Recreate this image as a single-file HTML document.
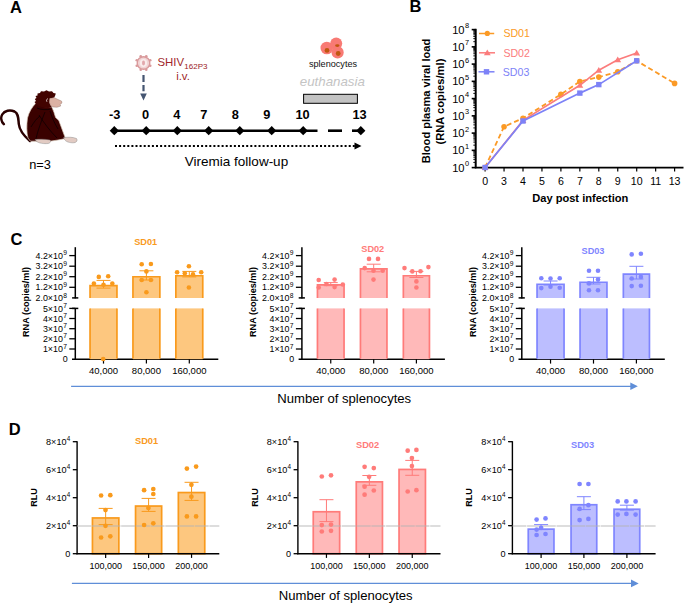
<!DOCTYPE html>
<html><head><meta charset="utf-8"><style>
html,body{margin:0;padding:0;background:#fff;}
svg{display:block;font-family:"Liberation Sans",sans-serif;}
</style></head><body>
<svg width="685" height="603" viewBox="0 0 685 603">
<rect width="685" height="603" fill="#fff"/>
<text x="10.00" y="12.60" font-size="16.5" text-anchor="start" font-weight="bold" fill="#000" >A</text>
<g id="monkey">
<path d="M30,141 C24,136 19.5,131 18.8,124 C18.2,118 18.5,113.5 14.5,111.5 C10,109.5 4.5,110.5 2.2,114.5 C0.5,117.5 1.2,121.5 3.8,124.2" fill="none" stroke="#2a0000" stroke-width="2.5" stroke-linecap="round"/>
<path d="M36,103 C32,107 29,112 27.5,118 C26.5,125 26.6,133 28,138 L30.5,141.2 L50,141.2 L58,140 L65.5,138.6 L59.2,121.5 C58.6,119.6 56.8,119 55.6,117.5 C54.5,114 53.5,110.5 52,107.5 L44,106.5 Z" fill="#3a0100" stroke="#d8c8b8" stroke-width="0.7"/>
<path d="M36,104 L34.5,102 L36,101 L34.8,99 L36.5,98 L35.5,96 L37.5,95.5 L37.5,93.5 L40,93 L41,91.2 L44,91.5 L46.5,90.3 L49,91.5 L52,91.2 L53.5,93 L55.8,93.5 L55,96 L54,97.8 L50,98.5 L49.5,103 L52,107.5 C48,108.5 40,108 36,104 Z" fill="#420300"/>
<path d="M49.5,98.5 L54,97.5 L58,99.5 L61.5,101 L62,103 L60,104.5 L60.8,106 L57,107.3 L53,107 L50.5,105.5 L49.3,102 Z" fill="#dcb2a4" stroke="#6a4a40" stroke-width="0.3"/>
<path d="M47.8,98.6 C46.4,99.2 46.2,101 47,101.8" stroke="#e0d0d0" stroke-width="0.9" fill="none"/>
<path d="M35,139.6 C39,139 45,139 50,140 C51.5,141.5 50,143.6 47,143.6 C42,143.8 37,143 35,139.6 Z" fill="#e2cbc3" stroke="#777" stroke-width="0.4"/>
<path d="M63.5,137.6 C68,137 73,137 76.5,138.5 C78,140.5 76.5,143 72.5,142.8 C68,142.6 65,141.5 63.5,137.6 Z" fill="#e2cbc3" stroke="#777" stroke-width="0.4"/>
<path d="M39,115 C44,123 50,131 57,138 M45,112 C41,122 38,130 36,138.5 M50,111 C52,118 55,124 58,129 M37,108 C41,110 47,110 51,109 M31,127 C34,122 37,118 40,116" stroke="#000" stroke-width="0.6" fill="none"/>
</g>
<text x="40.00" y="168.60" font-size="12.8" text-anchor="middle" fill="#000" >n=3</text>
<g transform="translate(143.5,63)">
<circle cx="6.74" cy="2.79" r="1.3" fill="#d99a9c"/>
<circle cx="2.79" cy="6.74" r="1.3" fill="#d99a9c"/>
<circle cx="-2.79" cy="6.74" r="1.3" fill="#d99a9c"/>
<circle cx="-6.74" cy="2.79" r="1.3" fill="#d99a9c"/>
<circle cx="-6.74" cy="-2.79" r="1.3" fill="#d99a9c"/>
<circle cx="-2.79" cy="-6.74" r="1.3" fill="#d99a9c"/>
<circle cx="2.79" cy="-6.74" r="1.3" fill="#d99a9c"/>
<circle cx="6.74" cy="-2.79" r="1.3" fill="#d99a9c"/>
<circle r="6.3" fill="#f1d4d5" stroke="#d99a9c" stroke-width="1.4"/><ellipse rx="3.6" ry="4" fill="#f9ecec"/><ellipse rx="1.5" ry="2.4" fill="#e2a8ac"/>
</g>
<text x="157.40" y="65.80" font-size="11.4" text-anchor="start" fill="#a0272a" >SHIV</text>
<text x="184.30" y="69.40" font-size="8.0" text-anchor="start" fill="#9c2226" >162P3</text>
<text x="183.00" y="80.20" font-size="11.4" text-anchor="middle" fill="#a0272a" >i.v.</text>
<path d="M143.5,75 L143.5,82 M143.5,85.1 L143.5,91.2" stroke="#455571" stroke-width="2.2"/>
<path d="M140.2,93.6 L146.8,93.6 L143.5,100.6 Z" fill="#455571"/>
<circle cx="326.8" cy="48" r="6.3" fill="#f87a74"/><circle cx="336.2" cy="43.4" r="6" fill="#f87a74"/><circle cx="337.6" cy="52.4" r="6.1" fill="#f87a74"/>
<circle cx="327" cy="50.4" r="2.4" fill="#c0560f"/><ellipse cx="337.3" cy="45.6" rx="2.2" ry="1.3" fill="#c0560f"/><circle cx="338.2" cy="53.5" r="2.4" fill="#c0560f"/>
<text x="333.00" y="66.90" font-size="9.15" text-anchor="middle" fill="#111" >splenocytes</text>
<text x="332.30" y="86.40" font-size="13.3" text-anchor="middle" font-style="italic" fill="#c4c4c4" >euthanasia</text>
<rect x="303.6" y="94.3" width="53.8" height="9" fill="#c3c3c3" stroke="#000" stroke-width="1"/>
<text x="114.70" y="119.30" font-size="12.8" text-anchor="middle" font-weight="bold" fill="#000" >-3</text>
<text x="145.60" y="119.30" font-size="12.8" text-anchor="middle" font-weight="bold" fill="#000" >0</text>
<text x="176.90" y="119.30" font-size="12.8" text-anchor="middle" font-weight="bold" fill="#000" >4</text>
<text x="203.80" y="119.30" font-size="12.8" text-anchor="middle" font-weight="bold" fill="#000" >7</text>
<text x="235.30" y="119.30" font-size="12.8" text-anchor="middle" font-weight="bold" fill="#000" >8</text>
<text x="266.70" y="119.30" font-size="12.8" text-anchor="middle" font-weight="bold" fill="#000" >9</text>
<text x="302.60" y="119.30" font-size="12.8" text-anchor="middle" font-weight="bold" fill="#000" >10</text>
<text x="359.60" y="119.30" font-size="12.8" text-anchor="middle" font-weight="bold" fill="#000" >13</text>
<line x1="114.30" y1="130.70" x2="317.50" y2="130.70" stroke="#000" stroke-width="2.6" />
<line x1="328.00" y1="130.70" x2="342.00" y2="130.70" stroke="#000" stroke-width="2.6" />
<line x1="352.00" y1="130.70" x2="361.00" y2="130.70" stroke="#000" stroke-width="2.6" />
<path d="M109.70,130.7 L114.30,126.1 L118.90,130.7 L114.30,135.3 Z" fill="#000"/>
<path d="M141.60,130.7 L146.20,126.1 L150.80,130.7 L146.20,135.3 Z" fill="#000"/>
<path d="M172.70,130.7 L177.30,126.1 L181.90,130.7 L177.30,135.3 Z" fill="#000"/>
<path d="M204.10,130.7 L208.70,126.1 L213.30,130.7 L208.70,135.3 Z" fill="#000"/>
<path d="M235.20,130.7 L239.80,126.1 L244.40,130.7 L239.80,135.3 Z" fill="#000"/>
<path d="M267.10,130.7 L271.70,126.1 L276.30,130.7 L271.70,135.3 Z" fill="#000"/>
<path d="M298.60,130.7 L303.20,126.1 L307.80,130.7 L303.20,135.3 Z" fill="#000"/>
<path d="M356.20,130.7 L360.80,126.1 L365.40,130.7 L360.80,135.3 Z" fill="#000"/>
<line x1="115" y1="146" x2="355" y2="146" stroke="#000" stroke-width="2" stroke-dasharray="2,2.1"/>
<path d="M354.5,142.6 L361.5,146 L354.5,149.4 Z" fill="#000"/>
<text x="236.50" y="165.60" font-size="13.5" text-anchor="middle" fill="#000" >Viremia follow-up</text>
<text x="409.60" y="12.30" font-size="16.5" text-anchor="start" font-weight="bold" fill="#000" >B</text>
<line x1="473.30" y1="162.41" x2="475.70" y2="162.41" stroke="#000" stroke-width="0.9" />
<line x1="473.30" y1="159.37" x2="475.70" y2="159.37" stroke="#000" stroke-width="0.9" />
<line x1="473.30" y1="157.21" x2="475.70" y2="157.21" stroke="#000" stroke-width="0.9" />
<line x1="473.30" y1="155.54" x2="475.70" y2="155.54" stroke="#000" stroke-width="0.9" />
<line x1="473.30" y1="154.18" x2="475.70" y2="154.18" stroke="#000" stroke-width="0.9" />
<line x1="473.30" y1="153.02" x2="475.70" y2="153.02" stroke="#000" stroke-width="0.9" />
<line x1="473.30" y1="152.02" x2="475.70" y2="152.02" stroke="#000" stroke-width="0.9" />
<line x1="473.30" y1="151.14" x2="475.70" y2="151.14" stroke="#000" stroke-width="0.9" />
<line x1="473.30" y1="145.16" x2="475.70" y2="145.16" stroke="#000" stroke-width="0.9" />
<line x1="473.30" y1="142.12" x2="475.70" y2="142.12" stroke="#000" stroke-width="0.9" />
<line x1="473.30" y1="139.96" x2="475.70" y2="139.96" stroke="#000" stroke-width="0.9" />
<line x1="473.30" y1="138.29" x2="475.70" y2="138.29" stroke="#000" stroke-width="0.9" />
<line x1="473.30" y1="136.93" x2="475.70" y2="136.93" stroke="#000" stroke-width="0.9" />
<line x1="473.30" y1="135.77" x2="475.70" y2="135.77" stroke="#000" stroke-width="0.9" />
<line x1="473.30" y1="134.77" x2="475.70" y2="134.77" stroke="#000" stroke-width="0.9" />
<line x1="473.30" y1="133.89" x2="475.70" y2="133.89" stroke="#000" stroke-width="0.9" />
<line x1="473.30" y1="127.91" x2="475.70" y2="127.91" stroke="#000" stroke-width="0.9" />
<line x1="473.30" y1="124.87" x2="475.70" y2="124.87" stroke="#000" stroke-width="0.9" />
<line x1="473.30" y1="122.71" x2="475.70" y2="122.71" stroke="#000" stroke-width="0.9" />
<line x1="473.30" y1="121.04" x2="475.70" y2="121.04" stroke="#000" stroke-width="0.9" />
<line x1="473.30" y1="119.68" x2="475.70" y2="119.68" stroke="#000" stroke-width="0.9" />
<line x1="473.30" y1="118.52" x2="475.70" y2="118.52" stroke="#000" stroke-width="0.9" />
<line x1="473.30" y1="117.52" x2="475.70" y2="117.52" stroke="#000" stroke-width="0.9" />
<line x1="473.30" y1="116.64" x2="475.70" y2="116.64" stroke="#000" stroke-width="0.9" />
<line x1="473.30" y1="110.66" x2="475.70" y2="110.66" stroke="#000" stroke-width="0.9" />
<line x1="473.30" y1="107.62" x2="475.70" y2="107.62" stroke="#000" stroke-width="0.9" />
<line x1="473.30" y1="105.46" x2="475.70" y2="105.46" stroke="#000" stroke-width="0.9" />
<line x1="473.30" y1="103.79" x2="475.70" y2="103.79" stroke="#000" stroke-width="0.9" />
<line x1="473.30" y1="102.43" x2="475.70" y2="102.43" stroke="#000" stroke-width="0.9" />
<line x1="473.30" y1="101.27" x2="475.70" y2="101.27" stroke="#000" stroke-width="0.9" />
<line x1="473.30" y1="100.27" x2="475.70" y2="100.27" stroke="#000" stroke-width="0.9" />
<line x1="473.30" y1="99.39" x2="475.70" y2="99.39" stroke="#000" stroke-width="0.9" />
<line x1="473.30" y1="93.41" x2="475.70" y2="93.41" stroke="#000" stroke-width="0.9" />
<line x1="473.30" y1="90.37" x2="475.70" y2="90.37" stroke="#000" stroke-width="0.9" />
<line x1="473.30" y1="88.21" x2="475.70" y2="88.21" stroke="#000" stroke-width="0.9" />
<line x1="473.30" y1="86.54" x2="475.70" y2="86.54" stroke="#000" stroke-width="0.9" />
<line x1="473.30" y1="85.18" x2="475.70" y2="85.18" stroke="#000" stroke-width="0.9" />
<line x1="473.30" y1="84.02" x2="475.70" y2="84.02" stroke="#000" stroke-width="0.9" />
<line x1="473.30" y1="83.02" x2="475.70" y2="83.02" stroke="#000" stroke-width="0.9" />
<line x1="473.30" y1="82.14" x2="475.70" y2="82.14" stroke="#000" stroke-width="0.9" />
<line x1="473.30" y1="76.16" x2="475.70" y2="76.16" stroke="#000" stroke-width="0.9" />
<line x1="473.30" y1="73.12" x2="475.70" y2="73.12" stroke="#000" stroke-width="0.9" />
<line x1="473.30" y1="70.96" x2="475.70" y2="70.96" stroke="#000" stroke-width="0.9" />
<line x1="473.30" y1="69.29" x2="475.70" y2="69.29" stroke="#000" stroke-width="0.9" />
<line x1="473.30" y1="67.93" x2="475.70" y2="67.93" stroke="#000" stroke-width="0.9" />
<line x1="473.30" y1="66.77" x2="475.70" y2="66.77" stroke="#000" stroke-width="0.9" />
<line x1="473.30" y1="65.77" x2="475.70" y2="65.77" stroke="#000" stroke-width="0.9" />
<line x1="473.30" y1="64.89" x2="475.70" y2="64.89" stroke="#000" stroke-width="0.9" />
<line x1="473.30" y1="58.91" x2="475.70" y2="58.91" stroke="#000" stroke-width="0.9" />
<line x1="473.30" y1="55.87" x2="475.70" y2="55.87" stroke="#000" stroke-width="0.9" />
<line x1="473.30" y1="53.71" x2="475.70" y2="53.71" stroke="#000" stroke-width="0.9" />
<line x1="473.30" y1="52.04" x2="475.70" y2="52.04" stroke="#000" stroke-width="0.9" />
<line x1="473.30" y1="50.68" x2="475.70" y2="50.68" stroke="#000" stroke-width="0.9" />
<line x1="473.30" y1="49.52" x2="475.70" y2="49.52" stroke="#000" stroke-width="0.9" />
<line x1="473.30" y1="48.52" x2="475.70" y2="48.52" stroke="#000" stroke-width="0.9" />
<line x1="473.30" y1="47.64" x2="475.70" y2="47.64" stroke="#000" stroke-width="0.9" />
<line x1="473.30" y1="41.66" x2="475.70" y2="41.66" stroke="#000" stroke-width="0.9" />
<line x1="473.30" y1="38.62" x2="475.70" y2="38.62" stroke="#000" stroke-width="0.9" />
<line x1="473.30" y1="36.46" x2="475.70" y2="36.46" stroke="#000" stroke-width="0.9" />
<line x1="473.30" y1="34.79" x2="475.70" y2="34.79" stroke="#000" stroke-width="0.9" />
<line x1="473.30" y1="33.43" x2="475.70" y2="33.43" stroke="#000" stroke-width="0.9" />
<line x1="473.30" y1="32.27" x2="475.70" y2="32.27" stroke="#000" stroke-width="0.9" />
<line x1="473.30" y1="31.27" x2="475.70" y2="31.27" stroke="#000" stroke-width="0.9" />
<line x1="473.30" y1="30.39" x2="475.70" y2="30.39" stroke="#000" stroke-width="0.9" />
<line x1="471.70" y1="167.60" x2="475.70" y2="167.60" stroke="#000" stroke-width="1.6" />
<text x="464.60" y="171.60" font-size="11.2" text-anchor="end" fill="#000" >10</text>
<text x="469.10" y="166.20" font-size="7.4" text-anchor="end" fill="#000" >0</text>
<line x1="471.70" y1="150.35" x2="475.70" y2="150.35" stroke="#000" stroke-width="1.6" />
<text x="464.60" y="154.35" font-size="11.2" text-anchor="end" fill="#000" >10</text>
<text x="469.10" y="148.95" font-size="7.4" text-anchor="end" fill="#000" >1</text>
<line x1="471.70" y1="133.10" x2="475.70" y2="133.10" stroke="#000" stroke-width="1.6" />
<text x="464.60" y="137.10" font-size="11.2" text-anchor="end" fill="#000" >10</text>
<text x="469.10" y="131.70" font-size="7.4" text-anchor="end" fill="#000" >2</text>
<line x1="471.70" y1="115.85" x2="475.70" y2="115.85" stroke="#000" stroke-width="1.6" />
<text x="464.60" y="119.85" font-size="11.2" text-anchor="end" fill="#000" >10</text>
<text x="469.10" y="114.45" font-size="7.4" text-anchor="end" fill="#000" >3</text>
<line x1="471.70" y1="98.60" x2="475.70" y2="98.60" stroke="#000" stroke-width="1.6" />
<text x="464.60" y="102.60" font-size="11.2" text-anchor="end" fill="#000" >10</text>
<text x="469.10" y="97.20" font-size="7.4" text-anchor="end" fill="#000" >4</text>
<line x1="471.70" y1="81.35" x2="475.70" y2="81.35" stroke="#000" stroke-width="1.6" />
<text x="464.60" y="85.35" font-size="11.2" text-anchor="end" fill="#000" >10</text>
<text x="469.10" y="79.95" font-size="7.4" text-anchor="end" fill="#000" >5</text>
<line x1="471.70" y1="64.10" x2="475.70" y2="64.10" stroke="#000" stroke-width="1.6" />
<text x="464.60" y="68.10" font-size="11.2" text-anchor="end" fill="#000" >10</text>
<text x="469.10" y="62.70" font-size="7.4" text-anchor="end" fill="#000" >6</text>
<line x1="471.70" y1="46.85" x2="475.70" y2="46.85" stroke="#000" stroke-width="1.6" />
<text x="464.60" y="50.85" font-size="11.2" text-anchor="end" fill="#000" >10</text>
<text x="469.10" y="45.45" font-size="7.4" text-anchor="end" fill="#000" >7</text>
<line x1="471.70" y1="29.60" x2="475.70" y2="29.60" stroke="#000" stroke-width="1.6" />
<text x="464.60" y="33.60" font-size="11.2" text-anchor="end" fill="#000" >10</text>
<text x="469.10" y="28.20" font-size="7.4" text-anchor="end" fill="#000" >8</text>
<line x1="475.70" y1="28.80" x2="475.70" y2="168.20" stroke="#000" stroke-width="2.0" />
<line x1="474.90" y1="167.60" x2="683.50" y2="167.60" stroke="#000" stroke-width="1.6" />
<line x1="485.10" y1="167.60" x2="485.10" y2="171.60" stroke="#000" stroke-width="1.2" />
<text x="485.10" y="184.60" font-size="10.6" text-anchor="middle" fill="#000" >0</text>
<line x1="504.05" y1="167.60" x2="504.05" y2="171.60" stroke="#000" stroke-width="1.2" />
<text x="504.05" y="184.60" font-size="10.6" text-anchor="middle" fill="#000" >3</text>
<line x1="523.00" y1="167.60" x2="523.00" y2="171.60" stroke="#000" stroke-width="1.2" />
<text x="523.00" y="184.60" font-size="10.6" text-anchor="middle" fill="#000" >4</text>
<line x1="541.95" y1="167.60" x2="541.95" y2="171.60" stroke="#000" stroke-width="1.2" />
<text x="541.95" y="184.60" font-size="10.6" text-anchor="middle" fill="#000" >5</text>
<line x1="560.90" y1="167.60" x2="560.90" y2="171.60" stroke="#000" stroke-width="1.2" />
<text x="560.90" y="184.60" font-size="10.6" text-anchor="middle" fill="#000" >6</text>
<line x1="579.85" y1="167.60" x2="579.85" y2="171.60" stroke="#000" stroke-width="1.2" />
<text x="579.85" y="184.60" font-size="10.6" text-anchor="middle" fill="#000" >7</text>
<line x1="598.80" y1="167.60" x2="598.80" y2="171.60" stroke="#000" stroke-width="1.2" />
<text x="598.80" y="184.60" font-size="10.6" text-anchor="middle" fill="#000" >8</text>
<line x1="617.75" y1="167.60" x2="617.75" y2="171.60" stroke="#000" stroke-width="1.2" />
<text x="617.75" y="184.60" font-size="10.6" text-anchor="middle" fill="#000" >9</text>
<line x1="636.70" y1="167.60" x2="636.70" y2="171.60" stroke="#000" stroke-width="1.2" />
<text x="636.70" y="184.60" font-size="10.6" text-anchor="middle" fill="#000" >10</text>
<line x1="655.65" y1="167.60" x2="655.65" y2="171.60" stroke="#000" stroke-width="1.2" />
<text x="655.65" y="184.60" font-size="10.6" text-anchor="middle" fill="#000" >11</text>
<line x1="674.60" y1="167.60" x2="674.60" y2="171.60" stroke="#000" stroke-width="1.2" />
<text x="674.60" y="184.60" font-size="10.6" text-anchor="middle" fill="#000" >13</text>
<text x="580.30" y="202.30" font-size="11.1" text-anchor="middle" font-weight="bold" fill="#000" >Day post infection</text>
<text transform="translate(429.6,101) rotate(-90)" font-size="11.1" font-weight="bold" text-anchor="middle">Blood plasma viral load</text>
<text transform="translate(444.2,101.6) rotate(-90)" font-size="11.2" font-weight="bold" text-anchor="middle">(RNA copies/ml)</text>
<polyline points="485.10,167.50 504.05,126.70 523.00,118.20 560.90,94.40 579.85,81.50 598.80,77.10 617.75,71.80 636.70,60.80 674.60,83.40" fill="none" stroke="#fb9a26" stroke-width="1.8" stroke-dasharray="5,3"/>
<circle cx="485.10" cy="167.50" r="2.8" fill="#fb9a26"/>
<circle cx="504.05" cy="126.70" r="2.8" fill="#fb9a26"/>
<circle cx="523.00" cy="118.20" r="2.8" fill="#fb9a26"/>
<circle cx="560.90" cy="94.40" r="2.8" fill="#fb9a26"/>
<circle cx="579.85" cy="81.50" r="2.8" fill="#fb9a26"/>
<circle cx="598.80" cy="77.10" r="2.8" fill="#fb9a26"/>
<circle cx="617.75" cy="71.80" r="2.8" fill="#fb9a26"/>
<circle cx="636.70" cy="60.80" r="2.8" fill="#fb9a26"/>
<circle cx="674.60" cy="83.40" r="2.8" fill="#fb9a26"/>
<polyline points="485.10,167.50 523.00,120.40 579.85,85.30 598.80,70.20 617.75,59.80 636.70,53.00" fill="none" stroke="#fb7c7c" stroke-width="1.7"/>
<path d="M481.70,170.05 L485.10,164.27 L488.50,170.05 Z" fill="#fb7c7c"/>
<path d="M519.60,122.95 L523.00,117.17 L526.40,122.95 Z" fill="#fb7c7c"/>
<path d="M576.45,87.85 L579.85,82.07 L583.25,87.85 Z" fill="#fb7c7c"/>
<path d="M595.40,72.75 L598.80,66.97 L602.20,72.75 Z" fill="#fb7c7c"/>
<path d="M614.35,62.35 L617.75,56.57 L621.15,62.35 Z" fill="#fb7c7c"/>
<path d="M633.30,55.55 L636.70,49.77 L640.10,55.55 Z" fill="#fb7c7c"/>
<polyline points="485.10,167.50 523.00,121.00 579.85,93.10 598.80,84.60 636.70,60.80" fill="none" stroke="#7d82f7" stroke-width="1.7"/>
<rect x="482.40" y="164.80" width="5.40" height="5.40" fill="#7d82f7"/>
<rect x="520.30" y="118.30" width="5.40" height="5.40" fill="#7d82f7"/>
<rect x="577.15" y="90.40" width="5.40" height="5.40" fill="#7d82f7"/>
<rect x="596.10" y="81.90" width="5.40" height="5.40" fill="#7d82f7"/>
<rect x="634.00" y="58.10" width="5.40" height="5.40" fill="#7d82f7"/>
<line x1="479" y1="33.4" x2="495.5" y2="33.4" stroke="#fb9a26" stroke-width="1.5" stroke-dasharray="6.5,2.2"/>
<circle cx="487.30" cy="33.40" r="2.6" fill="#fb9a26"/>
<line x1="479.00" y1="52.80" x2="495.00" y2="52.80" stroke="#fb7c7c" stroke-width="1.5" />
<path d="M483.90,55.35 L487.30,49.57 L490.70,55.35 Z" fill="#fb7c7c"/>
<line x1="478.50" y1="71.80" x2="494.50" y2="71.80" stroke="#7d82f7" stroke-width="1.5" />
<rect x="483.80" y="69.10" width="5.40" height="5.40" fill="#7d82f7"/>
<text x="503.40" y="37.40" font-size="10.6" text-anchor="start" fill="#fb9a26" >SD01</text>
<text x="503.40" y="56.80" font-size="10.6" text-anchor="start" fill="#fb7c7c" >SD02</text>
<text x="502.80" y="75.80" font-size="10.6" text-anchor="start" fill="#7d82f7" >SD03</text>
<text x="10.50" y="244.60" font-size="16.5" text-anchor="start" font-weight="bold" fill="#000" >C</text>
<text transform="translate(29.00,302) rotate(-90)" font-size="9.1" font-weight="bold" text-anchor="middle">RNA (copies/ml)</text>
<line x1="75.30" y1="247.20" x2="75.30" y2="298.40" stroke="#000" stroke-width="1.5" />
<line x1="69.30" y1="255.60" x2="75.30" y2="255.60" stroke="#000" stroke-width="1.3" />
<text x="62.90" y="258.70" font-size="8.9" text-anchor="end" fill="#000" >4.2×10</text>
<text x="66.90" y="255.20" font-size="6.7" text-anchor="end" fill="#000" >9</text>
<line x1="69.30" y1="266.20" x2="75.30" y2="266.20" stroke="#000" stroke-width="1.3" />
<text x="62.90" y="269.30" font-size="8.9" text-anchor="end" fill="#000" >3.2×10</text>
<text x="66.90" y="265.80" font-size="6.7" text-anchor="end" fill="#000" >9</text>
<line x1="69.30" y1="276.70" x2="75.30" y2="276.70" stroke="#000" stroke-width="1.3" />
<text x="62.90" y="279.80" font-size="8.9" text-anchor="end" fill="#000" >2.2×10</text>
<text x="66.90" y="276.30" font-size="6.7" text-anchor="end" fill="#000" >9</text>
<line x1="69.30" y1="287.30" x2="75.30" y2="287.30" stroke="#000" stroke-width="1.3" />
<text x="62.90" y="290.40" font-size="8.9" text-anchor="end" fill="#000" >1.2×10</text>
<text x="66.90" y="286.90" font-size="6.7" text-anchor="end" fill="#000" >9</text>
<line x1="72.10" y1="297.90" x2="78.30" y2="297.90" stroke="#000" stroke-width="1.5" />
<text x="62.90" y="301.00" font-size="8.9" text-anchor="end" fill="#000" >2.0×10</text>
<text x="66.90" y="297.50" font-size="6.7" text-anchor="end" fill="#000" >8</text>
<line x1="75.30" y1="308.00" x2="75.30" y2="359.20" stroke="#000" stroke-width="1.5" />
<line x1="72.10" y1="308.40" x2="78.30" y2="308.40" stroke="#000" stroke-width="1.5" />
<line x1="69.30" y1="308.40" x2="75.30" y2="308.40" stroke="#000" stroke-width="1.3" />
<text x="62.90" y="311.50" font-size="8.9" text-anchor="end" fill="#000" >5×10</text>
<text x="66.90" y="308.00" font-size="6.7" text-anchor="end" fill="#000" >7</text>
<line x1="69.30" y1="318.50" x2="75.30" y2="318.50" stroke="#000" stroke-width="1.3" />
<text x="62.90" y="321.60" font-size="8.9" text-anchor="end" fill="#000" >4×10</text>
<text x="66.90" y="318.10" font-size="6.7" text-anchor="end" fill="#000" >7</text>
<line x1="69.30" y1="328.70" x2="75.30" y2="328.70" stroke="#000" stroke-width="1.3" />
<text x="62.90" y="331.80" font-size="8.9" text-anchor="end" fill="#000" >3×10</text>
<text x="66.90" y="328.30" font-size="6.7" text-anchor="end" fill="#000" >7</text>
<line x1="69.30" y1="338.80" x2="75.30" y2="338.80" stroke="#000" stroke-width="1.3" />
<text x="62.90" y="341.90" font-size="8.9" text-anchor="end" fill="#000" >2×10</text>
<text x="66.90" y="338.40" font-size="6.7" text-anchor="end" fill="#000" >7</text>
<line x1="69.30" y1="349.00" x2="75.30" y2="349.00" stroke="#000" stroke-width="1.3" />
<text x="62.90" y="352.10" font-size="8.9" text-anchor="end" fill="#000" >1×10</text>
<text x="66.90" y="348.60" font-size="6.7" text-anchor="end" fill="#000" >7</text>
<text x="67.70" y="362.30" font-size="8.9" text-anchor="end" fill="#000" >0</text>
<line x1="72.00" y1="359.20" x2="218.30" y2="359.20" stroke="#000" stroke-width="1.5" />
<text x="145.70" y="245.20" font-size="9.2" text-anchor="middle" font-weight="bold" fill="#f99a1c" >SD01</text>
<rect x="90.05" y="285.55" width="26.90" height="12.45" fill="#fdc77f"/>
<path d="M90.05,298 L90.05,285.55 L116.95,285.55 L116.95,298" fill="none" stroke="#f99a1c" stroke-width="1.7"/>
<rect x="90.05" y="308.4" width="26.90" height="50.80" fill="#fdc77f"/>
<path d="M90.05,308.4 L90.05,358.6 M116.95,308.4 L116.95,358.6" fill="none" stroke="#f99a1c" stroke-width="1.7"/>
<line x1="103.50" y1="359.20" x2="103.50" y2="363.60" stroke="#000" stroke-width="1.2" />
<text x="103.50" y="373.80" font-size="9.5" text-anchor="middle" fill="#000" >40,000</text>
<line x1="103.50" y1="280.40" x2="103.50" y2="288.10" stroke="#f99a1c" stroke-width="1" />
<line x1="96.50" y1="280.40" x2="110.50" y2="280.40" stroke="#f99a1c" stroke-width="1" />
<line x1="96.50" y1="288.10" x2="110.50" y2="288.10" stroke="#f99a1c" stroke-width="1" />
<circle cx="98.80" cy="276.90" r="2.3" fill="#f99a1c"/>
<circle cx="108.20" cy="276.30" r="2.3" fill="#f99a1c"/>
<circle cx="93.90" cy="283.60" r="2.3" fill="#f99a1c"/>
<circle cx="103.50" cy="284.70" r="2.3" fill="#f99a1c"/>
<circle cx="112.30" cy="283.60" r="2.3" fill="#f99a1c"/>
<rect x="132.95" y="276.75" width="26.90" height="21.25" fill="#fdc77f"/>
<path d="M132.95,298 L132.95,276.75 L159.85,276.75 L159.85,298" fill="none" stroke="#f99a1c" stroke-width="1.7"/>
<rect x="132.95" y="308.4" width="26.90" height="50.80" fill="#fdc77f"/>
<path d="M132.95,308.4 L132.95,358.6 M159.85,308.4 L159.85,358.6" fill="none" stroke="#f99a1c" stroke-width="1.7"/>
<line x1="146.40" y1="359.20" x2="146.40" y2="363.60" stroke="#000" stroke-width="1.2" />
<text x="146.40" y="373.80" font-size="9.5" text-anchor="middle" fill="#000" >80,000</text>
<line x1="146.40" y1="270.80" x2="146.40" y2="280.00" stroke="#f99a1c" stroke-width="1" />
<line x1="139.40" y1="270.80" x2="153.40" y2="270.80" stroke="#f99a1c" stroke-width="1" />
<line x1="139.40" y1="280.00" x2="153.40" y2="280.00" stroke="#f99a1c" stroke-width="1" />
<circle cx="141.70" cy="264.20" r="2.3" fill="#f99a1c"/>
<circle cx="150.90" cy="264.00" r="2.3" fill="#f99a1c"/>
<circle cx="146.40" cy="271.40" r="2.3" fill="#f99a1c"/>
<circle cx="141.70" cy="280.00" r="2.3" fill="#f99a1c"/>
<circle cx="150.90" cy="280.00" r="2.3" fill="#f99a1c"/>
<circle cx="146.40" cy="292.20" r="2.3" fill="#f99a1c"/>
<rect x="175.85" y="275.75" width="26.90" height="22.25" fill="#fdc77f"/>
<path d="M175.85,298 L175.85,275.75 L202.75,275.75 L202.75,298" fill="none" stroke="#f99a1c" stroke-width="1.7"/>
<rect x="175.85" y="308.4" width="26.90" height="50.80" fill="#fdc77f"/>
<path d="M175.85,308.4 L175.85,358.6 M202.75,308.4 L202.75,358.6" fill="none" stroke="#f99a1c" stroke-width="1.7"/>
<line x1="189.30" y1="359.20" x2="189.30" y2="363.60" stroke="#000" stroke-width="1.2" />
<text x="189.30" y="373.80" font-size="9.5" text-anchor="middle" fill="#000" >160,000</text>
<line x1="189.30" y1="271.40" x2="189.30" y2="276.90" stroke="#f99a1c" stroke-width="1" />
<line x1="182.30" y1="271.40" x2="196.30" y2="271.40" stroke="#f99a1c" stroke-width="1" />
<line x1="182.30" y1="276.90" x2="196.30" y2="276.90" stroke="#f99a1c" stroke-width="1" />
<circle cx="188.90" cy="266.30" r="2.3" fill="#f99a1c"/>
<circle cx="177.10" cy="272.20" r="2.3" fill="#f99a1c"/>
<circle cx="201.20" cy="272.20" r="2.3" fill="#f99a1c"/>
<circle cx="184.80" cy="273.20" r="2.3" fill="#f99a1c"/>
<circle cx="193.00" cy="274.40" r="2.3" fill="#f99a1c"/>
<circle cx="188.90" cy="287.50" r="2.3" fill="#f99a1c"/>
<circle cx="103.20" cy="359.00" r="2.3" fill="#f99a1c"/>
<text transform="translate(255.60,302) rotate(-90)" font-size="9.1" font-weight="bold" text-anchor="middle">RNA (copies/ml)</text>
<line x1="301.90" y1="247.20" x2="301.90" y2="298.40" stroke="#000" stroke-width="1.5" />
<line x1="295.90" y1="255.60" x2="301.90" y2="255.60" stroke="#000" stroke-width="1.3" />
<text x="289.50" y="258.70" font-size="8.9" text-anchor="end" fill="#000" >4.2×10</text>
<text x="293.50" y="255.20" font-size="6.7" text-anchor="end" fill="#000" >9</text>
<line x1="295.90" y1="266.20" x2="301.90" y2="266.20" stroke="#000" stroke-width="1.3" />
<text x="289.50" y="269.30" font-size="8.9" text-anchor="end" fill="#000" >3.2×10</text>
<text x="293.50" y="265.80" font-size="6.7" text-anchor="end" fill="#000" >9</text>
<line x1="295.90" y1="276.70" x2="301.90" y2="276.70" stroke="#000" stroke-width="1.3" />
<text x="289.50" y="279.80" font-size="8.9" text-anchor="end" fill="#000" >2.2×10</text>
<text x="293.50" y="276.30" font-size="6.7" text-anchor="end" fill="#000" >9</text>
<line x1="295.90" y1="287.30" x2="301.90" y2="287.30" stroke="#000" stroke-width="1.3" />
<text x="289.50" y="290.40" font-size="8.9" text-anchor="end" fill="#000" >1.2×10</text>
<text x="293.50" y="286.90" font-size="6.7" text-anchor="end" fill="#000" >9</text>
<line x1="298.70" y1="297.90" x2="304.90" y2="297.90" stroke="#000" stroke-width="1.5" />
<text x="289.50" y="301.00" font-size="8.9" text-anchor="end" fill="#000" >2.0×10</text>
<text x="293.50" y="297.50" font-size="6.7" text-anchor="end" fill="#000" >8</text>
<line x1="301.90" y1="308.00" x2="301.90" y2="359.20" stroke="#000" stroke-width="1.5" />
<line x1="298.70" y1="308.40" x2="304.90" y2="308.40" stroke="#000" stroke-width="1.5" />
<line x1="295.90" y1="308.40" x2="301.90" y2="308.40" stroke="#000" stroke-width="1.3" />
<text x="289.50" y="311.50" font-size="8.9" text-anchor="end" fill="#000" >5×10</text>
<text x="293.50" y="308.00" font-size="6.7" text-anchor="end" fill="#000" >7</text>
<line x1="295.90" y1="318.50" x2="301.90" y2="318.50" stroke="#000" stroke-width="1.3" />
<text x="289.50" y="321.60" font-size="8.9" text-anchor="end" fill="#000" >4×10</text>
<text x="293.50" y="318.10" font-size="6.7" text-anchor="end" fill="#000" >7</text>
<line x1="295.90" y1="328.70" x2="301.90" y2="328.70" stroke="#000" stroke-width="1.3" />
<text x="289.50" y="331.80" font-size="8.9" text-anchor="end" fill="#000" >3×10</text>
<text x="293.50" y="328.30" font-size="6.7" text-anchor="end" fill="#000" >7</text>
<line x1="295.90" y1="338.80" x2="301.90" y2="338.80" stroke="#000" stroke-width="1.3" />
<text x="289.50" y="341.90" font-size="8.9" text-anchor="end" fill="#000" >2×10</text>
<text x="293.50" y="338.40" font-size="6.7" text-anchor="end" fill="#000" >7</text>
<line x1="295.90" y1="349.00" x2="301.90" y2="349.00" stroke="#000" stroke-width="1.3" />
<text x="289.50" y="352.10" font-size="8.9" text-anchor="end" fill="#000" >1×10</text>
<text x="293.50" y="348.60" font-size="6.7" text-anchor="end" fill="#000" >7</text>
<text x="294.30" y="362.30" font-size="8.9" text-anchor="end" fill="#000" >0</text>
<line x1="298.60" y1="359.20" x2="444.90" y2="359.20" stroke="#000" stroke-width="1.5" />
<text x="372.75" y="252.40" font-size="9.2" text-anchor="middle" font-weight="bold" fill="#ff7b79" >SD02</text>
<rect x="317.45" y="284.85" width="26.60" height="13.15" fill="#ffb9b9"/>
<path d="M317.45,298 L317.45,284.85 L344.05,284.85 L344.05,298" fill="none" stroke="#ff7b79" stroke-width="1.7"/>
<rect x="317.45" y="308.4" width="26.60" height="50.80" fill="#ffb9b9"/>
<path d="M317.45,308.4 L317.45,358.6 M344.05,308.4 L344.05,358.6" fill="none" stroke="#ff7b79" stroke-width="1.7"/>
<line x1="330.75" y1="359.20" x2="330.75" y2="363.60" stroke="#000" stroke-width="1.2" />
<text x="330.75" y="373.80" font-size="9.5" text-anchor="middle" fill="#000" >40,000</text>
<line x1="330.75" y1="282.60" x2="330.75" y2="285.70" stroke="#ff7b79" stroke-width="1" />
<line x1="323.75" y1="282.60" x2="337.75" y2="282.60" stroke="#ff7b79" stroke-width="1" />
<line x1="323.75" y1="285.70" x2="337.75" y2="285.70" stroke="#ff7b79" stroke-width="1" />
<circle cx="318.70" cy="280.00" r="2.3" fill="#ff7b79"/>
<circle cx="334.60" cy="279.60" r="2.3" fill="#ff7b79"/>
<circle cx="326.50" cy="284.00" r="2.3" fill="#ff7b79"/>
<circle cx="342.80" cy="284.50" r="2.3" fill="#ff7b79"/>
<circle cx="318.70" cy="287.50" r="2.3" fill="#ff7b79"/>
<circle cx="334.60" cy="287.10" r="2.3" fill="#ff7b79"/>
<rect x="360.45" y="268.95" width="26.50" height="29.05" fill="#ffb9b9"/>
<path d="M360.45,298 L360.45,268.95 L386.95,268.95 L386.95,298" fill="none" stroke="#ff7b79" stroke-width="1.7"/>
<rect x="360.45" y="308.4" width="26.50" height="50.80" fill="#ffb9b9"/>
<path d="M360.45,308.4 L360.45,358.6 M386.95,308.4 L386.95,358.6" fill="none" stroke="#ff7b79" stroke-width="1.7"/>
<line x1="373.70" y1="359.20" x2="373.70" y2="363.60" stroke="#000" stroke-width="1.2" />
<text x="373.70" y="373.80" font-size="9.5" text-anchor="middle" fill="#000" >80,000</text>
<line x1="373.70" y1="264.20" x2="373.70" y2="271.80" stroke="#ff7b79" stroke-width="1" />
<line x1="366.70" y1="264.20" x2="380.70" y2="264.20" stroke="#ff7b79" stroke-width="1" />
<line x1="366.70" y1="271.80" x2="380.70" y2="271.80" stroke="#ff7b79" stroke-width="1" />
<circle cx="369.00" cy="258.90" r="2.3" fill="#ff7b79"/>
<circle cx="378.00" cy="258.90" r="2.3" fill="#ff7b79"/>
<circle cx="364.70" cy="268.10" r="2.3" fill="#ff7b79"/>
<circle cx="373.50" cy="270.80" r="2.3" fill="#ff7b79"/>
<circle cx="382.70" cy="270.80" r="2.3" fill="#ff7b79"/>
<circle cx="373.50" cy="279.60" r="2.3" fill="#ff7b79"/>
<rect x="403.35" y="275.75" width="26.10" height="22.25" fill="#ffb9b9"/>
<path d="M403.35,298 L403.35,275.75 L429.45,275.75 L429.45,298" fill="none" stroke="#ff7b79" stroke-width="1.7"/>
<rect x="403.35" y="308.4" width="26.10" height="50.80" fill="#ffb9b9"/>
<path d="M403.35,308.4 L403.35,358.6 M429.45,308.4 L429.45,358.6" fill="none" stroke="#ff7b79" stroke-width="1.7"/>
<line x1="416.40" y1="359.20" x2="416.40" y2="363.60" stroke="#000" stroke-width="1.2" />
<text x="416.40" y="373.80" font-size="9.5" text-anchor="middle" fill="#000" >160,000</text>
<line x1="416.40" y1="271.40" x2="416.40" y2="277.50" stroke="#ff7b79" stroke-width="1" />
<line x1="409.40" y1="271.40" x2="423.40" y2="271.40" stroke="#ff7b79" stroke-width="1" />
<line x1="409.40" y1="277.50" x2="423.40" y2="277.50" stroke="#ff7b79" stroke-width="1" />
<circle cx="404.50" cy="268.10" r="2.3" fill="#ff7b79"/>
<circle cx="428.40" cy="267.10" r="2.3" fill="#ff7b79"/>
<circle cx="412.30" cy="271.40" r="2.3" fill="#ff7b79"/>
<circle cx="420.50" cy="271.20" r="2.3" fill="#ff7b79"/>
<circle cx="416.40" cy="281.40" r="2.3" fill="#ff7b79"/>
<circle cx="416.40" cy="287.50" r="2.3" fill="#ff7b79"/>
<text transform="translate(475.50,302) rotate(-90)" font-size="9.1" font-weight="bold" text-anchor="middle">RNA (copies/ml)</text>
<line x1="521.80" y1="247.20" x2="521.80" y2="298.40" stroke="#000" stroke-width="1.5" />
<line x1="515.80" y1="255.60" x2="521.80" y2="255.60" stroke="#000" stroke-width="1.3" />
<text x="509.40" y="258.70" font-size="8.9" text-anchor="end" fill="#000" >4.2×10</text>
<text x="513.40" y="255.20" font-size="6.7" text-anchor="end" fill="#000" >9</text>
<line x1="515.80" y1="266.20" x2="521.80" y2="266.20" stroke="#000" stroke-width="1.3" />
<text x="509.40" y="269.30" font-size="8.9" text-anchor="end" fill="#000" >3.2×10</text>
<text x="513.40" y="265.80" font-size="6.7" text-anchor="end" fill="#000" >9</text>
<line x1="515.80" y1="276.70" x2="521.80" y2="276.70" stroke="#000" stroke-width="1.3" />
<text x="509.40" y="279.80" font-size="8.9" text-anchor="end" fill="#000" >2.2×10</text>
<text x="513.40" y="276.30" font-size="6.7" text-anchor="end" fill="#000" >9</text>
<line x1="515.80" y1="287.30" x2="521.80" y2="287.30" stroke="#000" stroke-width="1.3" />
<text x="509.40" y="290.40" font-size="8.9" text-anchor="end" fill="#000" >1.2×10</text>
<text x="513.40" y="286.90" font-size="6.7" text-anchor="end" fill="#000" >9</text>
<line x1="518.60" y1="297.90" x2="524.80" y2="297.90" stroke="#000" stroke-width="1.5" />
<text x="509.40" y="301.00" font-size="8.9" text-anchor="end" fill="#000" >2.0×10</text>
<text x="513.40" y="297.50" font-size="6.7" text-anchor="end" fill="#000" >8</text>
<line x1="521.80" y1="308.00" x2="521.80" y2="359.20" stroke="#000" stroke-width="1.5" />
<line x1="518.60" y1="308.40" x2="524.80" y2="308.40" stroke="#000" stroke-width="1.5" />
<line x1="515.80" y1="308.40" x2="521.80" y2="308.40" stroke="#000" stroke-width="1.3" />
<text x="509.40" y="311.50" font-size="8.9" text-anchor="end" fill="#000" >5×10</text>
<text x="513.40" y="308.00" font-size="6.7" text-anchor="end" fill="#000" >7</text>
<line x1="515.80" y1="318.50" x2="521.80" y2="318.50" stroke="#000" stroke-width="1.3" />
<text x="509.40" y="321.60" font-size="8.9" text-anchor="end" fill="#000" >4×10</text>
<text x="513.40" y="318.10" font-size="6.7" text-anchor="end" fill="#000" >7</text>
<line x1="515.80" y1="328.70" x2="521.80" y2="328.70" stroke="#000" stroke-width="1.3" />
<text x="509.40" y="331.80" font-size="8.9" text-anchor="end" fill="#000" >3×10</text>
<text x="513.40" y="328.30" font-size="6.7" text-anchor="end" fill="#000" >7</text>
<line x1="515.80" y1="338.80" x2="521.80" y2="338.80" stroke="#000" stroke-width="1.3" />
<text x="509.40" y="341.90" font-size="8.9" text-anchor="end" fill="#000" >2×10</text>
<text x="513.40" y="338.40" font-size="6.7" text-anchor="end" fill="#000" >7</text>
<line x1="515.80" y1="349.00" x2="521.80" y2="349.00" stroke="#000" stroke-width="1.3" />
<text x="509.40" y="352.10" font-size="8.9" text-anchor="end" fill="#000" >1×10</text>
<text x="513.40" y="348.60" font-size="6.7" text-anchor="end" fill="#000" >7</text>
<text x="514.20" y="362.30" font-size="8.9" text-anchor="end" fill="#000" >0</text>
<line x1="518.50" y1="359.20" x2="664.80" y2="359.20" stroke="#000" stroke-width="1.5" />
<text x="593.00" y="254.40" font-size="9.2" text-anchor="middle" font-weight="bold" fill="#7f85ff" >SD03</text>
<rect x="537.05" y="284.25" width="27.00" height="13.75" fill="#bcbeff"/>
<path d="M537.05,298 L537.05,284.25 L564.05,284.25 L564.05,298" fill="none" stroke="#7f85ff" stroke-width="1.7"/>
<rect x="537.05" y="308.4" width="27.00" height="50.80" fill="#bcbeff"/>
<path d="M537.05,308.4 L537.05,358.6 M564.05,308.4 L564.05,358.6" fill="none" stroke="#7f85ff" stroke-width="1.7"/>
<line x1="550.55" y1="359.20" x2="550.55" y2="363.60" stroke="#000" stroke-width="1.2" />
<text x="550.55" y="373.80" font-size="9.5" text-anchor="middle" fill="#000" >40,000</text>
<line x1="550.55" y1="281.00" x2="550.55" y2="285.00" stroke="#7f85ff" stroke-width="1" />
<line x1="543.55" y1="281.00" x2="557.55" y2="281.00" stroke="#7f85ff" stroke-width="1" />
<line x1="543.55" y1="285.00" x2="557.55" y2="285.00" stroke="#7f85ff" stroke-width="1" />
<circle cx="541.30" cy="278.30" r="2.3" fill="#7f85ff"/>
<circle cx="550.50" cy="278.50" r="2.3" fill="#7f85ff"/>
<circle cx="559.70" cy="278.30" r="2.3" fill="#7f85ff"/>
<circle cx="541.30" cy="288.10" r="2.3" fill="#7f85ff"/>
<circle cx="550.50" cy="286.70" r="2.3" fill="#7f85ff"/>
<circle cx="559.70" cy="287.70" r="2.3" fill="#7f85ff"/>
<rect x="580.05" y="282.25" width="26.90" height="15.75" fill="#bcbeff"/>
<path d="M580.05,298 L580.05,282.25 L606.95,282.25 L606.95,298" fill="none" stroke="#7f85ff" stroke-width="1.7"/>
<rect x="580.05" y="308.4" width="26.90" height="50.80" fill="#bcbeff"/>
<path d="M580.05,308.4 L580.05,358.6 M606.95,308.4 L606.95,358.6" fill="none" stroke="#7f85ff" stroke-width="1.7"/>
<line x1="593.50" y1="359.20" x2="593.50" y2="363.60" stroke="#000" stroke-width="1.2" />
<text x="593.50" y="373.80" font-size="9.5" text-anchor="middle" fill="#000" >80,000</text>
<line x1="593.50" y1="277.30" x2="593.50" y2="284.00" stroke="#7f85ff" stroke-width="1" />
<line x1="586.50" y1="277.30" x2="600.50" y2="277.30" stroke="#7f85ff" stroke-width="1" />
<line x1="586.50" y1="284.00" x2="600.50" y2="284.00" stroke="#7f85ff" stroke-width="1" />
<circle cx="589.00" cy="270.80" r="2.3" fill="#7f85ff"/>
<circle cx="598.00" cy="270.80" r="2.3" fill="#7f85ff"/>
<circle cx="598.00" cy="279.60" r="2.3" fill="#7f85ff"/>
<circle cx="589.00" cy="283.40" r="2.3" fill="#7f85ff"/>
<circle cx="589.00" cy="290.20" r="2.3" fill="#7f85ff"/>
<circle cx="598.00" cy="290.20" r="2.3" fill="#7f85ff"/>
<rect x="623.35" y="274.05" width="26.10" height="23.95" fill="#bcbeff"/>
<path d="M623.35,298 L623.35,274.05 L649.45,274.05 L649.45,298" fill="none" stroke="#7f85ff" stroke-width="1.7"/>
<rect x="623.35" y="308.4" width="26.10" height="50.80" fill="#bcbeff"/>
<path d="M623.35,308.4 L623.35,358.6 M649.45,308.4 L649.45,358.6" fill="none" stroke="#7f85ff" stroke-width="1.7"/>
<line x1="636.40" y1="359.20" x2="636.40" y2="363.60" stroke="#000" stroke-width="1.2" />
<text x="636.40" y="373.80" font-size="9.5" text-anchor="middle" fill="#000" >160,000</text>
<line x1="636.40" y1="266.30" x2="636.40" y2="279.00" stroke="#7f85ff" stroke-width="1" />
<line x1="629.40" y1="266.30" x2="643.40" y2="266.30" stroke="#7f85ff" stroke-width="1" />
<line x1="629.40" y1="279.00" x2="643.40" y2="279.00" stroke="#7f85ff" stroke-width="1" />
<circle cx="631.70" cy="254.40" r="2.3" fill="#7f85ff"/>
<circle cx="640.90" cy="253.80" r="2.3" fill="#7f85ff"/>
<circle cx="631.70" cy="278.50" r="2.3" fill="#7f85ff"/>
<circle cx="640.90" cy="276.90" r="2.3" fill="#7f85ff"/>
<circle cx="631.70" cy="286.10" r="2.3" fill="#7f85ff"/>
<circle cx="640.90" cy="285.70" r="2.3" fill="#7f85ff"/>
<line x1="71.10" y1="386.30" x2="631.00" y2="386.30" stroke="#5f8ed8" stroke-width="1.3" />
<path d="M630.3,382.6 L637.8,386.3 L630.3,390 Z" fill="#5f8ed8"/>
<text x="344.20" y="403.10" font-size="13.1" text-anchor="middle" fill="#000" >Number of splenocytes</text>
<text x="8.80" y="434.60" font-size="16.5" text-anchor="start" font-weight="bold" fill="#000" >D</text>
<text transform="translate(36.90,497.5) rotate(-90)" font-size="9" font-weight="bold" text-anchor="middle">RLU</text>
<line x1="77.10" y1="441.20" x2="77.10" y2="554.30" stroke="#000" stroke-width="1.4" />
<line x1="72.80" y1="441.70" x2="77.10" y2="441.70" stroke="#000" stroke-width="1.3" />
<text x="66.50" y="444.90" font-size="9.1" text-anchor="end" fill="#000" >8×10</text>
<text x="70.30" y="440.80" font-size="6.3" text-anchor="end" fill="#000" >4</text>
<line x1="72.80" y1="469.70" x2="77.10" y2="469.70" stroke="#000" stroke-width="1.3" />
<text x="66.50" y="472.90" font-size="9.1" text-anchor="end" fill="#000" >6×10</text>
<text x="70.30" y="468.80" font-size="6.3" text-anchor="end" fill="#000" >4</text>
<line x1="72.80" y1="497.70" x2="77.10" y2="497.70" stroke="#000" stroke-width="1.3" />
<text x="66.50" y="500.90" font-size="9.1" text-anchor="end" fill="#000" >4×10</text>
<text x="70.30" y="496.80" font-size="6.3" text-anchor="end" fill="#000" >4</text>
<line x1="72.80" y1="525.70" x2="77.10" y2="525.70" stroke="#000" stroke-width="1.3" />
<text x="66.50" y="528.90" font-size="9.1" text-anchor="end" fill="#000" >2×10</text>
<text x="70.30" y="524.80" font-size="6.3" text-anchor="end" fill="#000" >4</text>
<line x1="72.80" y1="553.70" x2="77.10" y2="553.70" stroke="#000" stroke-width="1.3" />
<text x="70.30" y="556.90" font-size="9.1" text-anchor="end" fill="#000" >0</text>
<text x="146.60" y="443.70" font-size="9.3" text-anchor="middle" font-weight="bold" fill="#f99a1c" >SD01</text>
<rect x="92.45" y="517.95" width="26.40" height="35.75" fill="#fdc77f" stroke="#f99a1c" stroke-width="1.7"/>
<line x1="105.65" y1="553.70" x2="105.65" y2="557.90" stroke="#000" stroke-width="1.2" />
<text x="105.65" y="569.10" font-size="9.0" text-anchor="middle" fill="#000" >100,000</text>
<rect x="135.55" y="506.05" width="26.10" height="47.65" fill="#fdc77f" stroke="#f99a1c" stroke-width="1.7"/>
<line x1="148.60" y1="553.70" x2="148.60" y2="557.90" stroke="#000" stroke-width="1.2" />
<text x="148.60" y="569.10" font-size="9.0" text-anchor="middle" fill="#000" >150,000</text>
<rect x="178.35" y="492.55" width="26.40" height="61.15" fill="#fdc77f" stroke="#f99a1c" stroke-width="1.7"/>
<line x1="191.55" y1="553.70" x2="191.55" y2="557.90" stroke="#000" stroke-width="1.2" />
<text x="191.55" y="569.10" font-size="9.0" text-anchor="middle" fill="#000" >200,000</text>
<line x1="77.10" y1="526.00" x2="219.30" y2="526.00" stroke="#b4b4b4" stroke-opacity="0.9" stroke-width="1" stroke-dasharray="14,0.7"/>
<line x1="105.65" y1="508.40" x2="105.65" y2="524.60" stroke="#f99a1c" stroke-width="1" />
<line x1="98.65" y1="508.40" x2="112.65" y2="508.40" stroke="#f99a1c" stroke-width="1" />
<line x1="98.65" y1="524.60" x2="112.65" y2="524.60" stroke="#f99a1c" stroke-width="1" />
<circle cx="101.10" cy="495.50" r="2.35" fill="#f99a1c"/>
<circle cx="110.30" cy="495.20" r="2.35" fill="#f99a1c"/>
<circle cx="105.50" cy="510.10" r="2.35" fill="#f99a1c"/>
<circle cx="105.50" cy="525.80" r="2.35" fill="#f99a1c"/>
<circle cx="101.10" cy="537.50" r="2.35" fill="#f99a1c"/>
<circle cx="110.30" cy="536.30" r="2.35" fill="#f99a1c"/>
<line x1="148.60" y1="498.40" x2="148.60" y2="511.40" stroke="#f99a1c" stroke-width="1" />
<line x1="141.60" y1="498.40" x2="155.60" y2="498.40" stroke="#f99a1c" stroke-width="1" />
<line x1="141.60" y1="511.40" x2="155.60" y2="511.40" stroke="#f99a1c" stroke-width="1" />
<circle cx="144.10" cy="490.20" r="2.35" fill="#f99a1c"/>
<circle cx="153.30" cy="489.00" r="2.35" fill="#f99a1c"/>
<circle cx="153.30" cy="494.00" r="2.35" fill="#f99a1c"/>
<circle cx="148.40" cy="507.90" r="2.35" fill="#f99a1c"/>
<circle cx="144.10" cy="525.00" r="2.35" fill="#f99a1c"/>
<circle cx="153.30" cy="523.30" r="2.35" fill="#f99a1c"/>
<line x1="191.55" y1="482.30" x2="191.55" y2="500.40" stroke="#f99a1c" stroke-width="1" />
<line x1="184.55" y1="482.30" x2="198.55" y2="482.30" stroke="#f99a1c" stroke-width="1" />
<line x1="184.55" y1="500.40" x2="198.55" y2="500.40" stroke="#f99a1c" stroke-width="1" />
<circle cx="186.90" cy="468.60" r="2.35" fill="#f99a1c"/>
<circle cx="196.10" cy="466.60" r="2.35" fill="#f99a1c"/>
<circle cx="191.40" cy="484.80" r="2.35" fill="#f99a1c"/>
<circle cx="191.40" cy="496.70" r="2.35" fill="#f99a1c"/>
<circle cx="186.90" cy="516.40" r="2.35" fill="#f99a1c"/>
<circle cx="196.10" cy="516.40" r="2.35" fill="#f99a1c"/>
<line x1="76.40" y1="553.70" x2="219.30" y2="553.70" stroke="#000" stroke-width="1.5" />
<text transform="translate(257.70,497.5) rotate(-90)" font-size="9" font-weight="bold" text-anchor="middle">RLU</text>
<line x1="297.90" y1="441.20" x2="297.90" y2="554.30" stroke="#000" stroke-width="1.4" />
<line x1="293.60" y1="441.70" x2="297.90" y2="441.70" stroke="#000" stroke-width="1.3" />
<text x="287.30" y="444.90" font-size="9.1" text-anchor="end" fill="#000" >8×10</text>
<text x="291.10" y="440.80" font-size="6.3" text-anchor="end" fill="#000" >4</text>
<line x1="293.60" y1="469.70" x2="297.90" y2="469.70" stroke="#000" stroke-width="1.3" />
<text x="287.30" y="472.90" font-size="9.1" text-anchor="end" fill="#000" >6×10</text>
<text x="291.10" y="468.80" font-size="6.3" text-anchor="end" fill="#000" >4</text>
<line x1="293.60" y1="497.70" x2="297.90" y2="497.70" stroke="#000" stroke-width="1.3" />
<text x="287.30" y="500.90" font-size="9.1" text-anchor="end" fill="#000" >4×10</text>
<text x="291.10" y="496.80" font-size="6.3" text-anchor="end" fill="#000" >4</text>
<line x1="293.60" y1="525.70" x2="297.90" y2="525.70" stroke="#000" stroke-width="1.3" />
<text x="287.30" y="528.90" font-size="9.1" text-anchor="end" fill="#000" >2×10</text>
<text x="291.10" y="524.80" font-size="6.3" text-anchor="end" fill="#000" >4</text>
<line x1="293.60" y1="553.70" x2="297.90" y2="553.70" stroke="#000" stroke-width="1.3" />
<text x="291.10" y="556.90" font-size="9.1" text-anchor="end" fill="#000" >0</text>
<text x="367.60" y="447.90" font-size="9.3" text-anchor="middle" font-weight="bold" fill="#ff7b79" >SD02</text>
<rect x="313.25" y="511.75" width="26.40" height="41.95" fill="#ffb9b9" stroke="#ff7b79" stroke-width="1.7"/>
<line x1="326.45" y1="553.70" x2="326.45" y2="557.90" stroke="#000" stroke-width="1.2" />
<text x="326.45" y="569.10" font-size="9.0" text-anchor="middle" fill="#000" >100,000</text>
<rect x="356.25" y="481.85" width="26.20" height="71.85" fill="#ffb9b9" stroke="#ff7b79" stroke-width="1.7"/>
<line x1="369.35" y1="553.70" x2="369.35" y2="557.90" stroke="#000" stroke-width="1.2" />
<text x="369.35" y="569.10" font-size="9.0" text-anchor="middle" fill="#000" >150,000</text>
<rect x="399.05" y="469.45" width="26.40" height="84.25" fill="#ffb9b9" stroke="#ff7b79" stroke-width="1.7"/>
<line x1="412.25" y1="553.70" x2="412.25" y2="557.90" stroke="#000" stroke-width="1.2" />
<text x="412.25" y="569.10" font-size="9.0" text-anchor="middle" fill="#000" >200,000</text>
<line x1="297.90" y1="526.00" x2="440.50" y2="526.00" stroke="#b4b4b4" stroke-opacity="0.9" stroke-width="1" stroke-dasharray="14,0.7"/>
<line x1="326.45" y1="499.70" x2="326.45" y2="521.60" stroke="#ff7b79" stroke-width="1" />
<line x1="319.45" y1="499.70" x2="333.45" y2="499.70" stroke="#ff7b79" stroke-width="1" />
<line x1="319.45" y1="521.60" x2="333.45" y2="521.60" stroke="#ff7b79" stroke-width="1" />
<circle cx="321.80" cy="476.50" r="2.35" fill="#ff7b79"/>
<circle cx="331.00" cy="475.30" r="2.35" fill="#ff7b79"/>
<circle cx="321.80" cy="525.10" r="2.35" fill="#ff7b79"/>
<circle cx="331.00" cy="524.60" r="2.35" fill="#ff7b79"/>
<circle cx="321.80" cy="531.50" r="2.35" fill="#ff7b79"/>
<circle cx="331.00" cy="530.80" r="2.35" fill="#ff7b79"/>
<line x1="369.35" y1="475.50" x2="369.35" y2="485.30" stroke="#ff7b79" stroke-width="1" />
<line x1="362.35" y1="475.50" x2="376.35" y2="475.50" stroke="#ff7b79" stroke-width="1" />
<line x1="362.35" y1="485.30" x2="376.35" y2="485.30" stroke="#ff7b79" stroke-width="1" />
<circle cx="364.60" cy="466.80" r="2.35" fill="#ff7b79"/>
<circle cx="373.80" cy="468.10" r="2.35" fill="#ff7b79"/>
<circle cx="369.10" cy="476.80" r="2.35" fill="#ff7b79"/>
<circle cx="364.60" cy="486.70" r="2.35" fill="#ff7b79"/>
<circle cx="373.80" cy="490.50" r="2.35" fill="#ff7b79"/>
<circle cx="364.60" cy="494.70" r="2.35" fill="#ff7b79"/>
<line x1="412.25" y1="460.40" x2="412.25" y2="475.30" stroke="#ff7b79" stroke-width="1" />
<line x1="405.25" y1="460.40" x2="419.25" y2="460.40" stroke="#ff7b79" stroke-width="1" />
<line x1="405.25" y1="475.30" x2="419.25" y2="475.30" stroke="#ff7b79" stroke-width="1" />
<circle cx="407.70" cy="450.70" r="2.35" fill="#ff7b79"/>
<circle cx="416.40" cy="449.90" r="2.35" fill="#ff7b79"/>
<circle cx="411.90" cy="458.10" r="2.35" fill="#ff7b79"/>
<circle cx="411.90" cy="466.10" r="2.35" fill="#ff7b79"/>
<circle cx="407.70" cy="491.50" r="2.35" fill="#ff7b79"/>
<circle cx="416.40" cy="490.20" r="2.35" fill="#ff7b79"/>
<line x1="297.20" y1="553.70" x2="440.50" y2="553.70" stroke="#000" stroke-width="1.5" />
<text transform="translate(472.20,497.5) rotate(-90)" font-size="9" font-weight="bold" text-anchor="middle">RLU</text>
<line x1="512.40" y1="441.20" x2="512.40" y2="554.30" stroke="#000" stroke-width="1.4" />
<line x1="508.10" y1="441.70" x2="512.40" y2="441.70" stroke="#000" stroke-width="1.3" />
<text x="501.80" y="444.90" font-size="9.1" text-anchor="end" fill="#000" >8×10</text>
<text x="505.60" y="440.80" font-size="6.3" text-anchor="end" fill="#000" >4</text>
<line x1="508.10" y1="469.70" x2="512.40" y2="469.70" stroke="#000" stroke-width="1.3" />
<text x="501.80" y="472.90" font-size="9.1" text-anchor="end" fill="#000" >6×10</text>
<text x="505.60" y="468.80" font-size="6.3" text-anchor="end" fill="#000" >4</text>
<line x1="508.10" y1="497.70" x2="512.40" y2="497.70" stroke="#000" stroke-width="1.3" />
<text x="501.80" y="500.90" font-size="9.1" text-anchor="end" fill="#000" >4×10</text>
<text x="505.60" y="496.80" font-size="6.3" text-anchor="end" fill="#000" >4</text>
<line x1="508.10" y1="525.70" x2="512.40" y2="525.70" stroke="#000" stroke-width="1.3" />
<text x="501.80" y="528.90" font-size="9.1" text-anchor="end" fill="#000" >2×10</text>
<text x="505.60" y="524.80" font-size="6.3" text-anchor="end" fill="#000" >4</text>
<line x1="508.10" y1="553.70" x2="512.40" y2="553.70" stroke="#000" stroke-width="1.3" />
<text x="505.60" y="556.90" font-size="9.1" text-anchor="end" fill="#000" >0</text>
<text x="582.60" y="447.90" font-size="9.3" text-anchor="middle" font-weight="bold" fill="#7f85ff" >SD03</text>
<rect x="528.25" y="529.15" width="25.70" height="24.55" fill="#bcbeff" stroke="#7f85ff" stroke-width="1.7"/>
<line x1="541.10" y1="553.70" x2="541.10" y2="557.90" stroke="#000" stroke-width="1.2" />
<text x="541.10" y="569.10" font-size="9.0" text-anchor="middle" fill="#000" >100,000</text>
<rect x="571.05" y="504.75" width="25.70" height="48.95" fill="#bcbeff" stroke="#7f85ff" stroke-width="1.7"/>
<line x1="583.90" y1="553.70" x2="583.90" y2="557.90" stroke="#000" stroke-width="1.2" />
<text x="583.90" y="569.10" font-size="9.0" text-anchor="middle" fill="#000" >150,000</text>
<rect x="614.05" y="509.25" width="25.70" height="44.45" fill="#bcbeff" stroke="#7f85ff" stroke-width="1.7"/>
<line x1="626.90" y1="553.70" x2="626.90" y2="557.90" stroke="#000" stroke-width="1.2" />
<text x="626.90" y="569.10" font-size="9.0" text-anchor="middle" fill="#000" >200,000</text>
<line x1="512.40" y1="526.00" x2="655.60" y2="526.00" stroke="#b4b4b4" stroke-opacity="0.9" stroke-width="1" stroke-dasharray="14,0.7"/>
<line x1="541.10" y1="524.60" x2="541.10" y2="529.60" stroke="#7f85ff" stroke-width="1" />
<line x1="534.10" y1="524.60" x2="548.10" y2="524.60" stroke="#7f85ff" stroke-width="1" />
<line x1="534.10" y1="529.60" x2="548.10" y2="529.60" stroke="#7f85ff" stroke-width="1" />
<circle cx="536.60" cy="519.60" r="2.35" fill="#7f85ff"/>
<circle cx="545.50" cy="518.40" r="2.35" fill="#7f85ff"/>
<circle cx="541.10" cy="527.80" r="2.35" fill="#7f85ff"/>
<circle cx="536.60" cy="529.60" r="2.35" fill="#7f85ff"/>
<circle cx="536.60" cy="535.00" r="2.35" fill="#7f85ff"/>
<circle cx="545.50" cy="534.00" r="2.35" fill="#7f85ff"/>
<line x1="583.90" y1="496.70" x2="583.90" y2="509.60" stroke="#7f85ff" stroke-width="1" />
<line x1="576.90" y1="496.70" x2="590.90" y2="496.70" stroke="#7f85ff" stroke-width="1" />
<line x1="576.90" y1="509.60" x2="590.90" y2="509.60" stroke="#7f85ff" stroke-width="1" />
<circle cx="579.60" cy="484.00" r="2.35" fill="#7f85ff"/>
<circle cx="588.40" cy="484.00" r="2.35" fill="#7f85ff"/>
<circle cx="588.40" cy="505.20" r="2.35" fill="#7f85ff"/>
<circle cx="579.60" cy="508.90" r="2.35" fill="#7f85ff"/>
<circle cx="579.60" cy="520.10" r="2.35" fill="#7f85ff"/>
<circle cx="588.40" cy="518.90" r="2.35" fill="#7f85ff"/>
<line x1="626.90" y1="505.20" x2="626.90" y2="510.10" stroke="#7f85ff" stroke-width="1" />
<line x1="619.90" y1="505.20" x2="633.90" y2="505.20" stroke="#7f85ff" stroke-width="1" />
<line x1="619.90" y1="510.10" x2="633.90" y2="510.10" stroke="#7f85ff" stroke-width="1" />
<circle cx="617.70" cy="501.40" r="2.35" fill="#7f85ff"/>
<circle cx="626.40" cy="501.40" r="2.35" fill="#7f85ff"/>
<circle cx="635.60" cy="501.40" r="2.35" fill="#7f85ff"/>
<circle cx="617.70" cy="514.60" r="2.35" fill="#7f85ff"/>
<circle cx="626.40" cy="513.90" r="2.35" fill="#7f85ff"/>
<circle cx="635.60" cy="514.60" r="2.35" fill="#7f85ff"/>
<line x1="511.70" y1="553.70" x2="655.60" y2="553.70" stroke="#000" stroke-width="1.5" />
<line x1="71.90" y1="583.40" x2="632.00" y2="583.40" stroke="#5f8ed8" stroke-width="1.3" />
<path d="M631,579.6 L638.7,583.4 L631,587.2 Z" fill="#5f8ed8"/>
<text x="345.70" y="599.90" font-size="13.1" text-anchor="middle" fill="#000" >Number of splenocytes</text>
</svg></body></html>
